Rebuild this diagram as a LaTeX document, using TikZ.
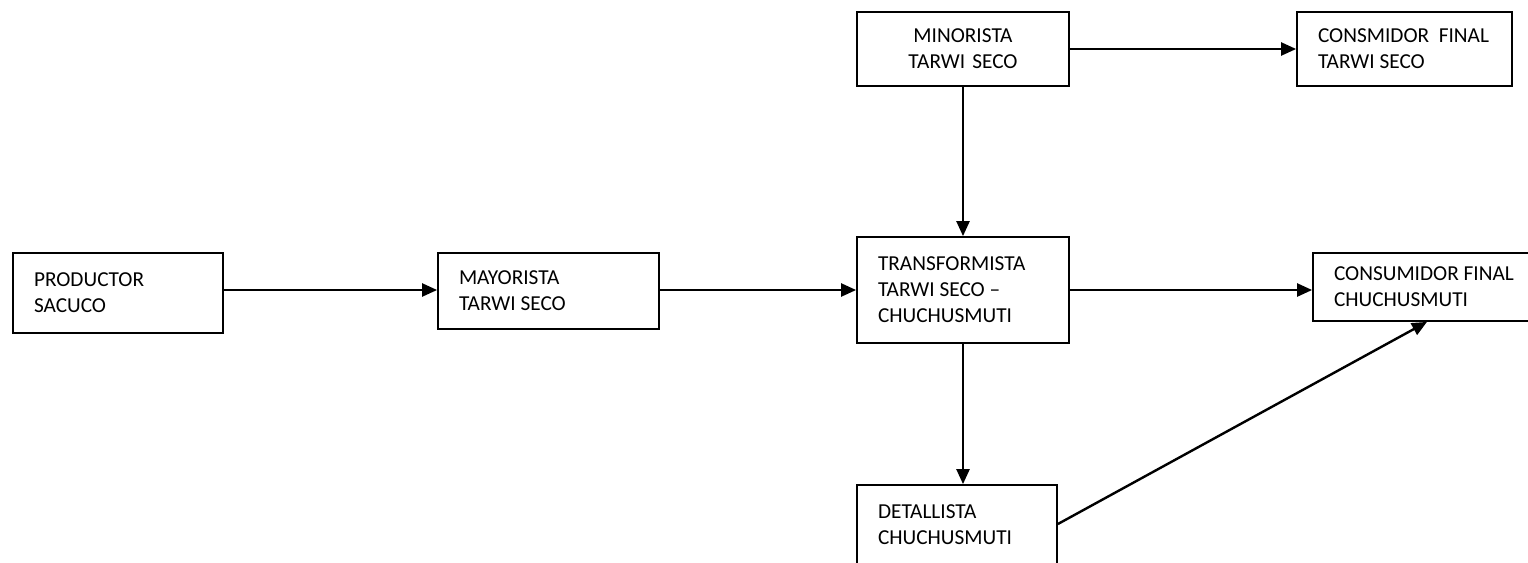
\documentclass[tikz,border=0pt]{standalone}
\usepackage{fontspec}
\setmainfont{Carlito}
\usetikzlibrary{arrows.meta,calc}
\begin{document}
\begin{tikzpicture}[x=1pt,y=-1pt,
  box/.style={draw,line width=1.8pt,rectangle,inner ysep=0pt,inner xsep=21pt,
    font=\fontsize{21.3}{26}\selectfont,align=flush left},
  arr/.style={line width=2.4pt,-{Triangle[length=15pt,width=13pt]}}]
\clip (0,0) rectangle (1528,562);
\fill[white] (0,0) rectangle (1528,562);
\node[box,minimum height=80pt,text width=168pt] (prod) at (118,293) {\mbox{PRODUCTOR}\\\mbox{SACUCO}};
\node[box,minimum height=76pt,text width=179pt] (may) at (548.5,291) {\mbox{MAYORISTA}\\\mbox{TARWI SECO}};
\node[box,minimum height=106pt,text width=170pt] (trans) at (963,290) {\mbox{TRANSFORMISTA}\\\mbox{TARWI SECO \textendash}\\\mbox{CHUCHUSMUTI}};
\node[box,minimum height=74pt,text width=170pt,align=center] (mino) at (963,49) {\mbox{MINORISTA}\\\mbox{TARWI SECO}};
\node[box,minimum height=74pt,text width=173pt] (cfts) at (1404.5,49) {\mbox{CONSMIDOR\ \ FINAL}\\\mbox{TARWI SECO}};
\node[box,minimum height=68pt,text width=198pt] (cfch) at (1433,287) {\mbox{CONSUMIDOR FINAL}\\\mbox{CHUCHUSMUTI}};
\node[box,minimum height=80pt,text width=158pt] (det) at (957,525) {\mbox{DETALLISTA}\\\mbox{CHUCHUSMUTI}};
\coordinate (cfin) at ($(cfch.south west)!0.475!(cfch.south east)$);
\draw[arr] (prod.east |- trans.west) -- (may.west |- trans.west);
\draw[arr] (may.east |- trans.west) -- (trans.west);
\draw[arr] (trans.east) -- (cfch.west |- trans.east);
\draw[arr] (mino.east) -- (cfts.west);
\draw[arr] (mino.south) -- (trans.north);
\draw[arr] (trans.south) -- (det.north -| trans.south);
\draw[arr] (det.east |- 0,524) -- (cfin);
\end{tikzpicture}
\end{document}
